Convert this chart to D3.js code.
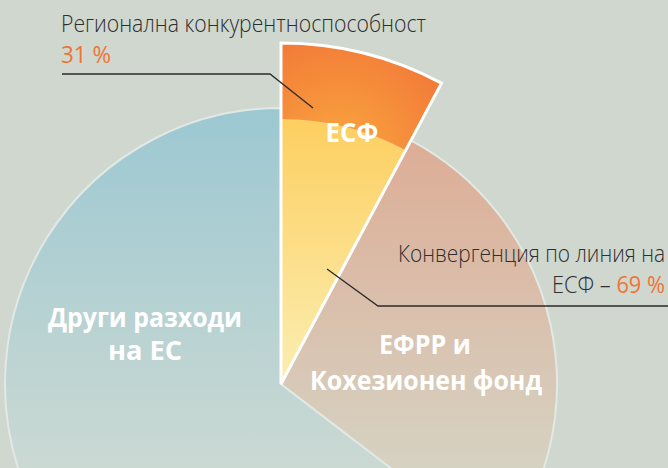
<!DOCTYPE html>
<html>
<head>
<meta charset="utf-8">
<script src="https://cdn.jsdelivr.net/npm/d3@7/dist/d3.min.js"></script>
<style>
  body { margin: 0; background: #cfd7cf; }
  svg { display: block; }
</style>
</head>
<body>
<div id="main"></div>
<script>
const ctx = {
    WIDTH: 668,
    HEIGHT: 468
}

// share of the EU budget (%)
const slices = ["ЕСФ", "ЕФРР и Кохезионен фонд", "Други разходи на ЕС"];
const shares = [7.8, 27.6, 64.6];
// ESF split (%)
const esfParts = ["Регионална конкурентноспособност", "Конвергенция по линия на ЕСФ"];
const esfShares = [31, 69];

function populateSVGcanvas() {
  const cx = 281, cy = 384;
  const rMain = 276, rEsf = 341, rSplit = 265;
  const svg = d3.select("#main svg");
  const defs = svg.append("defs");

  // gradients (coords relative to pie centre)
  const lin = (id, y1, y2, c1, c2) => {
    const g = defs.append("linearGradient").attr("id", id)
        .attr("gradientUnits", "userSpaceOnUse")
        .attr("x1", 0).attr("x2", 0).attr("y1", y1 - cy).attr("y2", y2 - cy);
    g.append("stop").attr("offset", 0).attr("stop-color", c1);
    g.append("stop").attr("offset", 1).attr("stop-color", c2);
  };
  lin("gBlue", 108, 468, "#9cc8d2", "#cbd9d3");
  lin("gBrown", 150, 468, "#ddae97", "#d6d2c2");
  lin("gYellow", 120, 384, "#fdcf60", "#fbeeb2");
  const rg = defs.append("radialGradient").attr("id", "gOrange")
      .attr("gradientUnits", "userSpaceOnUse")
      .attr("cx", 340 - cx).attr("cy", 150 - cy).attr("r", 130);
  rg.append("stop").attr("offset", 0).attr("stop-color", "#f9a63f");
  rg.append("stop").attr("offset", 1).attr("stop-color", "#f27737");

  const pie = d3.pie().sort(null).value(d => d)(shares);
  const arc = d3.arc();
  const g = svg.append("g").attr("transform", `translate(${cx},${cy})`);

  const drawArc = (a, fill, stroke, sw) =>
      g.append("path")
        .attr("d", arc(a))
        .attr("fill", fill)
        .attr("stroke", stroke)
        .attr("stroke-width", sw);

  drawArc({innerRadius: 0, outerRadius: rMain, startAngle: pie[2].startAngle, endAngle: pie[2].endAngle},
      "url(#gBlue)", "#e2e8e3", 2);
  drawArc({innerRadius: 0, outerRadius: rMain, startAngle: pie[1].startAngle, endAngle: pie[1].endAngle},
      "url(#gBrown)", "#e2e8e3", 2);

  // ESF wedge, split into two rings
  const e = pie[0];
  drawArc({innerRadius: 0, outerRadius: rSplit, startAngle: e.startAngle, endAngle: e.endAngle},
      "url(#gYellow)", "none", 0);
  drawArc({innerRadius: rSplit, outerRadius: rEsf, startAngle: e.startAngle, endAngle: e.endAngle},
      "url(#gOrange)", "none", 0);
  drawArc({innerRadius: 0, outerRadius: rEsf, startAngle: e.startAngle, endAngle: e.endAngle},
      "none", "#ffffff", 3);

  // leader lines
  const line = d3.line();
  svg.append("path")
      .attr("d", line([[62, 74], [270, 74], [313, 108]]))
      .attr("fill", "none").attr("stroke", "#2b2b2b").attr("stroke-width", 1.3);
  svg.append("path")
      .attr("d", line([[327, 269], [378, 306], [668, 306]]))
      .attr("fill", "none").attr("stroke", "#2b2b2b").attr("stroke-width", 1.3);

  // thin labels
  const thin = (x, y, anchor, len) => svg.append("text")
      .attr("x", x).attr("y", y)
      .attr("text-anchor", anchor)
      .attr("textLength", len).attr("lengthAdjust", "spacingAndGlyphs")
      .style("font-family", "'Open Sans', sans-serif")
      .style("font-weight", 300)
      .style("font-size", "23px")
      .style("fill", "#2e2e2e");

  thin(61, 32, "start", 365).text(esfParts[0]);
  thin(61, 63, "start", 50).style("fill", "#f07434").style("font-weight", 400)
      .text(esfShares[0] + " %");
  thin(665, 262, "end", 267).text("Конвергенция по линия на");
  const t = thin(665, 293, "end", 113);
  t.append("tspan").text("ЕСФ – ");
  t.append("tspan").style("fill", "#f07434").style("font-weight", 400).text(esfShares[1] + " %");

  // bold labels
  const bold = (x, y, len, txt) => svg.append("text")
      .attr("x", x).attr("y", y)
      .attr("text-anchor", "middle")
      .attr("textLength", len).attr("lengthAdjust", "spacingAndGlyphs")
      .style("font-family", "'Open Sans', sans-serif")
      .style("font-weight", 700)
      .style("font-size", "26px")
      .style("fill", "#ffffff")
      .text(txt);

  bold(352, 142, 53, "ЕСФ");
  bold(145, 327, 194, "Други разходи");
  bold(145, 360, 74, "на ЕС");
  bold(425, 354, 92, "ЕФРР и");
  bold(426, 390, 232, "Кохезионен фонд");
}

function createViz(){
    let svgEl = d3.select("#main").append("svg");
    svgEl.attr("width", ctx.WIDTH);
    svgEl.attr("height", ctx.HEIGHT);
    populateSVGcanvas();
}

createViz();
</script>
</body>
</html>
